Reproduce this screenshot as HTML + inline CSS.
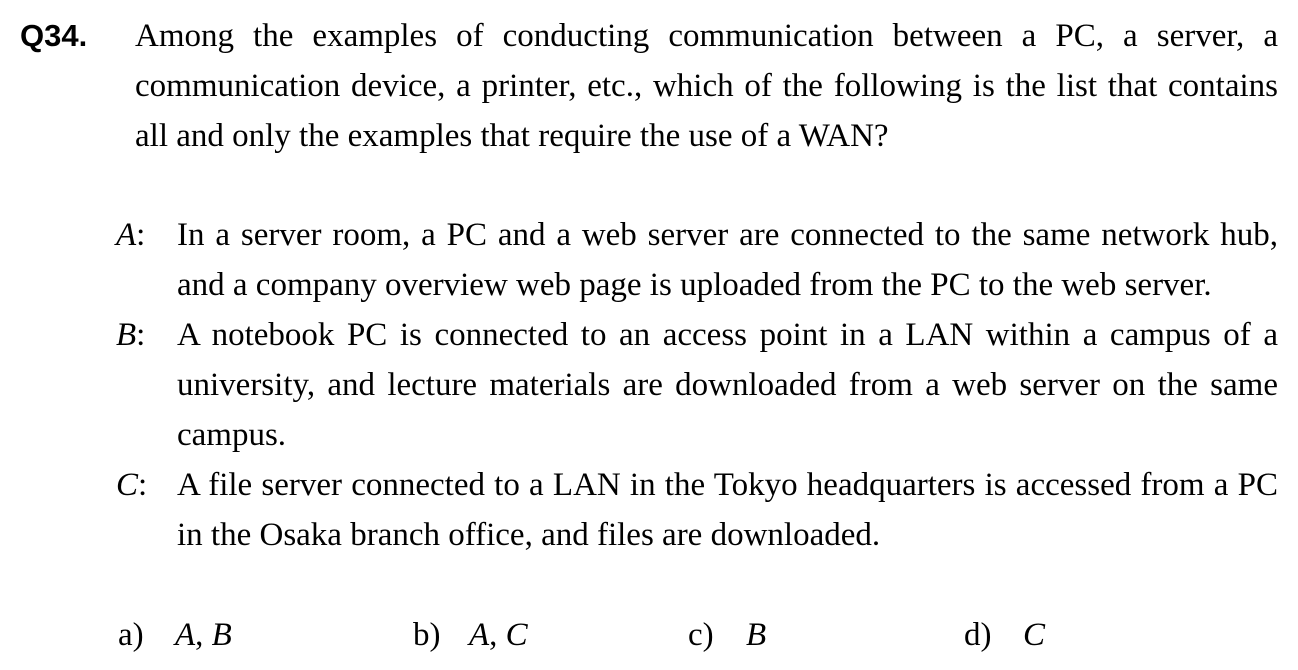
<!DOCTYPE html>
<html>
<head>
<meta charset="utf-8">
<style>
  html, body { margin:0; padding:0; background:#fff; }
  body { width:1298px; height:670px; position:relative; overflow:hidden; color:#000;
         font-family:"Liberation Serif", "Times New Roman", serif; font-size:33px; }
  .l { position:absolute; line-height:50px; height:50px; white-space:nowrap; }
  .j { text-align:justify; text-align-last:justify; white-space:normal; overflow:hidden; }
  .q { position:absolute; left:20px; top:11px; line-height:50px;
       font-family:"Liberation Sans", Arial, sans-serif; font-weight:bold; font-size:31px; }
  i { font-style:italic; }
</style>
</head>
<body>
<div class="q">Q34.</div>

<div class="l j" style="left:135px; width:1143px; top:11px;">Among the examples of conducting communication between a PC, a server, a</div>
<div class="l j" style="left:135px; width:1143px; top:61px;">communication device, a printer, etc., which of the following is the list that contains</div>
<div class="l" style="left:135px; top:111px;">all and only the examples that require the use of a WAN?</div>

<div class="l" style="left:116px; top:210px;"><i>A</i>:</div>
<div class="l j" style="left:177px; width:1101px; top:210px;">In a server room, a PC and a web server are connected to the same network hub,</div>
<div class="l" style="left:177px; top:260px;">and a company overview web page is uploaded from the PC to the web server.</div>

<div class="l" style="left:116px; top:310px;"><i>B</i>:</div>
<div class="l j" style="left:177px; width:1101px; top:310px;">A notebook PC is connected to an access point in a LAN within a campus of a</div>
<div class="l j" style="left:177px; width:1101px; top:360px;">university, and lecture materials are downloaded from a web server on the same</div>
<div class="l" style="left:177px; top:410px;">campus.</div>

<div class="l" style="left:116px; top:460px;"><i>C</i>:</div>
<div class="l j" style="left:177px; width:1101px; top:460px;">A file server connected to a LAN in the Tokyo headquarters is accessed from a PC</div>
<div class="l" style="left:177px; top:510px;">in the Osaka branch office, and files are downloaded.</div>

<div class="l" style="left:118px; top:610px;">a)</div>
<div class="l" style="left:175px; top:610px;"><i>A</i>, <i>B</i></div>
<div class="l" style="left:413px; top:610px;">b)</div>
<div class="l" style="left:469px; top:610px;"><i>A</i>, <i>C</i></div>
<div class="l" style="left:688px; top:610px;">c)</div>
<div class="l" style="left:746px; top:610px;"><i>B</i></div>
<div class="l" style="left:964px; top:610px;">d)</div>
<div class="l" style="left:1023px; top:610px;"><i>C</i></div>
</body>
</html>
